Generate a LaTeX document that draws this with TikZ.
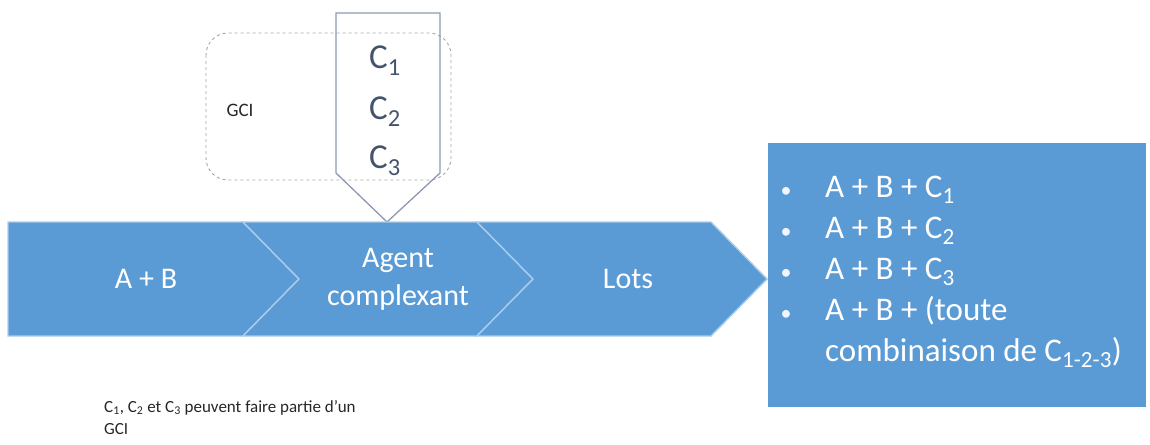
\documentclass[tikz,border=0pt]{standalone}
\usepackage{fontspec}
\setmainfont{Carlito}
\newcommand{\lowidx}[1]{\textsubscript{#1}}
\definecolor{bandblue}{HTML}{5B9BD5}
\definecolor{bandline}{HTML}{A9CCEC}
\definecolor{slate}{HTML}{44546A}
\definecolor{slateline}{HTML}{8C9AB0}
\definecolor{dashgray}{HTML}{A6A6A6}
\begin{document}
\begin{tikzpicture}[x=1pt,y=-1pt,
  chevron/.style={fill=bandblue,draw=bandline,line width=1.4pt,line join=miter},
  bandtext/.style={text=white,font=\fontsize{30}{38}\selectfont,align=center,inner sep=0pt},
  listtext/.style={text=white,font=\fontsize{33}{38}\selectfont,anchor=base west,inner sep=0pt},
  bullettext/.style={text=white!90!bandblue,font=\fontsize{22}{26}\selectfont,anchor=base,inner sep=0pt},
  ctext/.style={text=slate,font=\fontsize{35}{40}\selectfont,anchor=base west,inner sep=0pt},
  note/.style={text=black!85,font=\fontsize{17}{22}\selectfont,inner sep=0pt}]
\useasboundingbox (0,0) rectangle (1150,444);

% group frame around the three C variants
\draw[dashgray,dashed,line width=0.9pt,rounded corners=22pt] (206,33) rectangle (451,180);
\node[note,anchor=center,font=\fontsize{19}{22}\selectfont] (gci) at (240,110) {GCI};

% downward pointer holding C1, C2, C3
\draw[slateline,line width=1.3pt,line join=miter]
  (336,13) -- (440,13) -- (440,173) -- (387,222) -- (336,173) -- cycle;
\node[ctext] (c1) at (369,68) {C\lowidx{1}};
\node[ctext] (c2) at (369,119) {C\lowidx{2}};
\node[ctext] (c3) at (369,168) {C\lowidx{3}};

% process band
\draw[chevron] (8,222) -- (243,222) -- (299,279) -- (243,336) -- (8,336) -- cycle;
\draw[chevron] (243,222) -- (477,222) -- (533,279) -- (477,336) -- (243,336) -- (299,279) -- cycle;
\draw[chevron] (477,222) -- (711,222) -- (767,279) -- (711,336) -- (477,336) -- (533,279) -- cycle;
\node[bandtext] (ab) at (146,279) {A + B};
\node[bandtext] (agent) at (398,279) {Agent\\complexant};
\node[bandtext] (lots) at (628,279) {Lots};

% resulting lots
\fill[bandblue] (768,143) rectangle (1146,407);
\node[bullettext] (b1) at (786,197) {•};
\node[bullettext] (b2) at (786,238) {•};
\node[bullettext] (b3) at (786,279) {•};
\node[bullettext] (b4) at (786,320) {•};
\node[listtext] (l1) at (825,197) {A + B + C\lowidx{1}};
\node[listtext] (l2) at (825,238) {A + B + C\lowidx{2}};
\node[listtext] (l3) at (825,279) {A + B + C\lowidx{3}};
\node[listtext] (l4) at (825,320) {A + B + (toute};
\node[listtext] (l5) at (825,361) {combinaison de C\lowidx{1-2-3})};

% footnote
\node[note,anchor=north west,align=left] (foot) at (104,400)
  {C\lowidx{1}, C\lowidx{2} et C\lowidx{3} peuvent faire partie d’un\\GCI};
\end{tikzpicture}
\end{document}
